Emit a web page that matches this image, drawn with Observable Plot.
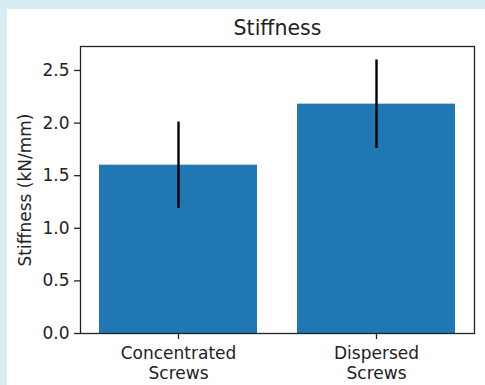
<!DOCTYPE html>
<html>
<head>
<meta charset="utf-8">
<script src="https://cdn.jsdelivr.net/npm/d3@7"></script>
<script src="https://cdn.jsdelivr.net/npm/@observablehq/plot@0.6"></script>
<style>
  html, body { margin: 0; padding: 0; }
  body { width: 485px; height: 385px; background: #d8ecf3; position: relative; overflow: hidden; font-family: "DejaVu Sans", sans-serif; }
  #panel { position: absolute; left: 7px; top: 9px; width: 478px; height: 376px; background: #ffffff; }
  #panel svg { display: block; }
</style>
</head>
<body>
<div id="panel"></div>
<script>
const categories = ["Concentrated\nScrews", "Dispersed\nScrews"];
const stiffness = [1.60, 2.18];
const errors = [0.41, 0.42];
const yTicks = [0, 0.5, 1.0, 1.5, 2.0, 2.5];
const title = "Stiffness";
const yLabel = "Stiffness (kN/mm)";

const data = categories.map((c, i) => ({ category: c, value: stiffness[i], err: errors[i] }));

const chart = Plot.plot({
  width: 478,
  height: 376,
  marginTop: 37,
  marginLeft: 73,
  marginRight: 11,
  marginBottom: 52,
  style: { fontFamily: "DejaVu Sans, sans-serif", fontSize: "17px", color: "#222", background: "white" },
  x: { domain: categories, paddingInner: 0.2, paddingOuter: 0.09, align: 0.5 },
  y: { domain: [0, 2.728] },
  marks: [
    Plot.barY(data, { x: "category", y: "value", fill: "#1f77b4" }),
    Plot.ruleX(data, { x: "category", y1: d => d.value - d.err, y2: d => d.value + d.err, stroke: "black", strokeWidth: 2.4 }),
    Plot.frame({ stroke: "#222", strokeWidth: 1.3 }),
    Plot.axisY({ ticks: yTicks, tickFormat: d3.format(".1f"), tickSize: 6, tickPadding: 5, stroke: "#222", strokeWidth: 1.3, fontSize: 17, fill: "#222",
      label: yLabel, labelAnchor: "center", labelArrow: "none", labelOffset: 62 }),
    Plot.axisX({ tickSize: 6, tickPadding: 5, stroke: "#222", strokeWidth: 1.3, fontSize: 17, fill: "#222", lineHeight: 1.2, label: null }),
    Plot.text([title], { frameAnchor: "top", dy: -12, lineAnchor: "bottom", fontSize: 20.5, fill: "#222" })
  ]
});
document.getElementById("panel").appendChild(chart);
</script>
</body>
</html>
